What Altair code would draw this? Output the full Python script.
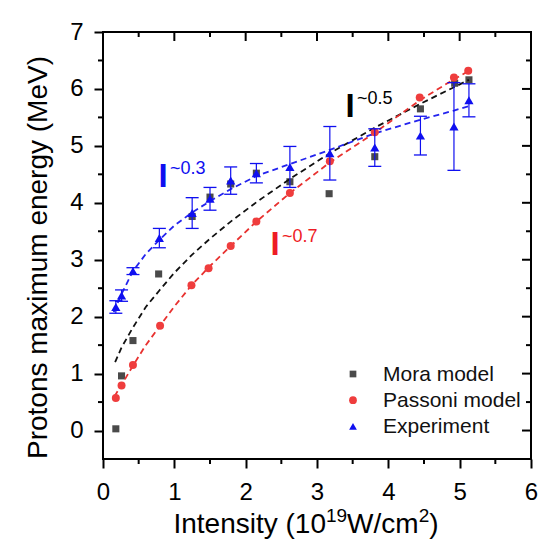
import altair as alt
import pandas as pd

# ---------------- data ----------------
mora_x = [0.18, 0.26, 0.42, 0.78, 1.25, 1.50, 1.79, 2.15, 2.62, 3.17, 3.81, 4.45, 4.93, 5.13]
mora_y = [0.03, 0.96, 1.58, 2.75, 3.76, 4.10, 4.33, 4.52, 4.37, 4.16, 4.81, 5.65, 6.10, 6.16]

pass_x = [0.18, 0.26, 0.42, 0.80, 1.24, 1.48, 1.79, 2.15, 2.62, 3.18, 3.81, 4.44, 4.92, 5.12]
pass_y = [0.57, 0.79, 1.15, 1.84, 2.55, 2.85, 3.24, 3.67, 4.17, 4.73, 5.24, 5.85, 6.20, 6.32]

exp_x = [0.18, 0.26, 0.42, 0.79, 1.25, 1.50, 1.79, 2.15, 2.62, 3.18, 3.81, 4.45, 4.92, 5.13]
exp_y = [2.17, 2.37, 2.80, 3.38, 3.82, 4.07, 4.39, 4.52, 4.63, 4.87, 4.97, 5.18, 5.34, 5.80]
exp_err = [0.11, 0.10, 0.06, 0.17, 0.27, 0.20, 0.24, 0.17, 0.36, 0.47, 0.33, 0.34, 0.77, 0.29]

# dashed fit curves
fit_x = [0.15, 0.26, 0.42, 0.60, 0.79, 1.00, 1.25, 1.50, 1.79, 2.15, 2.62, 3.18, 3.81, 4.45, 4.92, 5.13]
fit03_y = [2.08, 2.40, 2.80, 3.10, 3.35, 3.60, 3.83, 4.03, 4.24, 4.47, 4.68, 4.93, 5.22, 5.46, 5.62, 5.70]
fit05_x = [0.17, 0.26, 0.42, 0.60, 0.79, 1.00, 1.25, 1.50, 1.79, 2.15, 2.62, 3.18, 3.81, 4.45, 4.92, 5.13]
fit05_y = [1.20, 1.46, 1.81, 2.17, 2.46, 2.77, 3.09, 3.37, 3.67, 4.01, 4.42, 4.87, 5.32, 5.74, 6.03, 6.16]
fit07_x = [0.16, 0.26, 0.42, 0.60, 0.80, 1.00, 1.24, 1.50, 1.79, 2.15, 2.62, 3.18, 3.81, 4.44, 4.92, 5.12]
fit07_y = [0.60, 0.80, 1.14, 1.50, 1.84, 2.18, 2.55, 2.89, 3.24, 3.67, 4.17, 4.71, 5.23, 5.80, 6.17, 6.31]

x_major = [0.0, 1.0, 2.0, 3.0, 4.0, 5.0, 6.0]
x_minor = [0.5, 1.5, 2.5, 3.5, 4.5, 5.5]
y_major = [0.0, 1.0, 2.0, 3.0, 4.0, 5.0, 6.0, 7.0]
y_minor = [-0.5, 0.5, 1.5, 2.5, 3.5, 4.5, 5.5, 6.5]

legend_labels = ["Mora model", "Passoni model", "Experiment"]
annot_base = ["I", "I", "I"]
annot_sup = ["~0.3", "~0.7", "~0.5"]
y_title = "Protons maximum energy (MeV)"
x_title_parts = ["Intensity (10", "19", "W/cm", "2", ")"]

# ---------------- styling ----------------
FONT = "Liberation Sans"
GRAY = "#4a4a4a"
RED = "#ef3d3d"
RED_LINE = "#e8312f"
BLUE = "#0f0ff0"
BLUE_LINE = "#2424ee"
W, H = 428, 427

xs = alt.Scale(domain=[0, 6], nice=False, zero=False)
ys = alt.Scale(domain=[-0.5, 7], nice=False, zero=False)

x_axis = alt.Axis(values=x_major, format="d", title=None, labelFontSize=24, labelFont=FONT,
                  labelColor="black", tickSize=9, tickWidth=2, tickColor="black",
                  labelPadding=12, domain=False, grid=False, labelFlush=False)
y_axis = alt.Axis(values=y_major, format="d", title=y_title, titleFontSize=28, titleFont=FONT,
                  titleFontWeight="normal", titleColor="black", titleX=-57, titleY=225,
                  titleAngle=-90, titleAlign="center", titleBaseline="alphabetic",
                  labelFontSize=24, labelFont=FONT, labelColor="black", tickSize=9, tickWidth=2,
                  tickColor="black", labelPadding=11, domain=False, grid=False, labelFlush=False)

df_mora = pd.DataFrame({"x": mora_x, "y": mora_y})
df_pass = pd.DataFrame({"x": pass_x, "y": pass_y})
df_exp = pd.DataFrame({"x": exp_x, "y": exp_y, "err": exp_err})
df_exp["lo"] = df_exp["y"] - df_exp["err"]
df_exp["hi"] = df_exp["y"] + df_exp["err"]


def X(f="x"):
    return alt.X(f"{f}:Q", scale=xs, axis=x_axis)


def Y(f="y"):
    return alt.Y(f"{f}:Q", scale=ys, axis=y_axis)


layers = []

mora = alt.Chart(df_mora).mark_point(shape="square", filled=True, size=50, color=GRAY, opacity=1).encode(
    x=X(), y=Y())
layers.append(mora)

# fit lines
for xv, yv, col in [(fit05_x, fit05_y, "#111111"), (fit07_x, fit07_y, RED_LINE), (fit_x, fit03_y, BLUE_LINE)]:
    layers.append(alt.Chart(pd.DataFrame({"x": xv, "y": yv})).mark_line(
        color=col, strokeWidth=1.8, strokeDash=[6, 4]).encode(x=X(), y=Y()))

layers.append(alt.Chart(df_pass).mark_point(shape="circle", filled=True, size=64, color=RED, opacity=1).encode(
    x=X(), y=Y()))

layers.append(alt.Chart(df_exp).mark_rule(color=BLUE, strokeWidth=1.2).encode(x=X(), y=Y("lo"), y2="hi:Q"))
for f in ["lo", "hi"]:
    layers.append(alt.Chart(df_exp).mark_tick(color=BLUE, thickness=1.3, size=13, orient="horizontal",
                                              opacity=1).encode(x=X(), y=Y(f)))
layers.append(alt.Chart(df_exp).mark_point(shape="triangle-up", filled=True, size=85, color=BLUE, opacity=1).encode(
    x=X(), y=Y()))


# ticks on the frame
def vrules(vals, y1, y2):
    return alt.Chart(pd.DataFrame({"x": vals})).mark_rule(color="black", strokeWidth=2).encode(
        x=X(), y=alt.value(y1), y2=alt.value(y2))


def hrules(vals, x1, x2):
    return alt.Chart(pd.DataFrame({"y": vals})).mark_rule(color="black", strokeWidth=2).encode(
        y=Y(), x=alt.value(x1), x2=alt.value(x2))


layers += [vrules(x_major, 0, 9), vrules(x_minor, 0, 5), vrules(x_minor, H, H + 5),
           hrules(y_major, W, W - 9), hrules(y_minor, W, W - 5), hrules(y_minor[1:], 0, -5)]

# annotations  (I^~p)
annot_pos = [(60, 155, BLUE), (172, 223, "#ee1c25"), (247, 85, "black")]
for base, sup, (ax, ay, col) in zip(annot_base, annot_sup, annot_pos):
    layers.append(alt.Chart(pd.DataFrame({"t": [base]})).mark_text(
        font=FONT, fontSize=33, fontWeight="bold", color=col, align="center", baseline="alphabetic").encode(
        x=alt.value(ax), y=alt.value(ay), text="t:N"))
    layers.append(alt.Chart(pd.DataFrame({"t": [sup]})).mark_text(
        font=FONT, fontSize=18, color=col, align="left", baseline="alphabetic").encode(
        x=alt.value(ax + 7), y=alt.value(ay - 13), text="t:N"))

# legend
leg_shapes = [("square", GRAY, 45), ("circle", RED, 60), ("triangle-up", BLUE, 60)]
for i, (lab, (shp, col, sz)) in enumerate(zip(legend_labels, leg_shapes)):
    yy = 342 + 26.2 * i
    layers.append(alt.Chart(pd.DataFrame({"t": [lab]})).mark_point(
        shape=shp, filled=True, size=sz, color=col, opacity=1).encode(x=alt.value(250), y=alt.value(yy)))
    layers.append(alt.Chart(pd.DataFrame({"t": [lab]})).mark_text(
        font=FONT, fontSize=21, color="#111111", align="left", baseline="middle").encode(
        x=alt.value(280), y=alt.value(yy + 1), text="t:N"))

# x-axis title with superscripts
AW = {'I': 278, 'n': 556, 't': 278, 'e': 556, 's': 500, 'i': 222, 'y': 500, ' ': 278, '(': 333,
      ')': 333, '1': 556, '0': 556, '9': 556, '2': 556, 'W': 944, '/': 278, 'c': 500, 'm': 833}
sizes = [28, 19, 28, 19, 28]
shifts = [0, -11, 0, -11, 0]
widths = [sum(AW[c] for c in p) / 1000 * s for p, s in zip(x_title_parts, sizes)]
cx = 203 - sum(widths) / 2
for p, s, sh, w in zip(x_title_parts, sizes, shifts, widths):
    layers.append(alt.Chart(pd.DataFrame({"t": [p]})).mark_text(
        font=FONT, fontSize=s, color="black", align="left", baseline="alphabetic").encode(
        x=alt.value(cx), y=alt.value(501 + sh), text="t:N"))
    cx += w

chart = alt.layer(*layers).properties(
    width=W, height=H,
    padding={"left": 103, "top": 32, "right": 21, "bottom": 82},
    autosize=alt.AutoSizeParams(type="none"),
).configure_view(stroke="black", strokeWidth=2)

chart.save("out.html", embed_options={"renderer": "svg", "actions": False})
